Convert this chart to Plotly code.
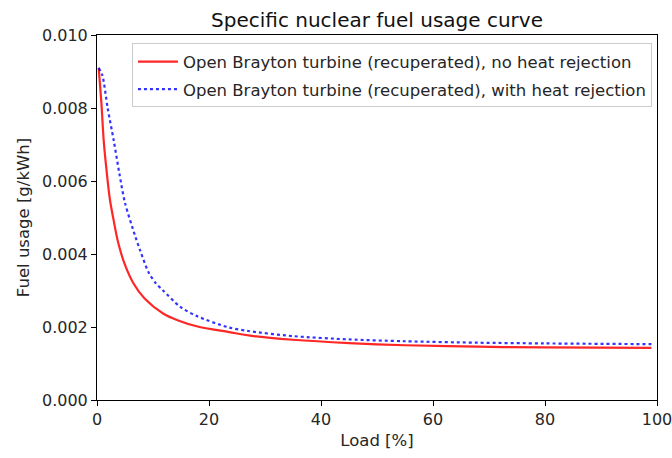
import plotly.graph_objects as go

# Load [%] and fuel usage [g/kWh]
load_no_rej = [0.3, 0.8, 1.2, 1.7, 2.3, 3.0, 3.8, 5.0, 6.5, 8.5, 11.8, 14.5, 17.8, 23.6, 28, 35, 45, 55, 68, 80, 99]
fuel_no_rej = [0.0091, 0.0081, 0.0071, 0.0063, 0.0055, 0.0049, 0.0043, 0.0037, 0.0032, 0.00278, 0.00237,
               0.00218, 0.00202, 0.00186, 0.00175, 0.00165, 0.00156, 0.00150, 0.00146, 0.00144, 0.00143]

load_with_rej = [0.3, 0.95, 1.9, 3.0, 4.0, 5.0, 6.8, 7.7, 9.2, 10.5, 11.8, 14.8, 17.8, 23.5, 27, 35, 45, 55, 68, 80, 99]
fuel_with_rej = [0.0091, 0.0089, 0.0080, 0.0071, 0.0062, 0.0054, 0.0045, 0.0041, 0.0035, 0.0032, 0.0030,
                 0.00256, 0.00230, 0.00199, 0.00189, 0.00175, 0.00166, 0.00161, 0.00157, 0.00155, 0.00153]

x_ticks = [0, 20, 40, 60, 80, 100]
y_ticks = [0.0, 0.002, 0.004, 0.006, 0.008, 0.010]

FONT = "DejaVu Sans"
FS = 16.5
TICK_FS = 16

fig = go.Figure()
fig.add_trace(go.Scatter(
    x=load_no_rej, y=fuel_no_rej, mode="lines", legendgroup="a",
    line=dict(color="rgba(255,0,0,0.85)", width=2.2, shape="spline", smoothing=1.0),
    name="Open Brayton turbine (recuperated), no heat rejection"))
fig.add_trace(go.Scatter(
    x=load_with_rej, y=fuel_with_rej, mode="lines", legendgroup="b",
    line=dict(color="rgba(0,0,255,0.8)", width=2.2, dash="dot", shape="spline", smoothing=0.8),
    name="Open Brayton turbine (recuperated), with heat rejection"))

axis_common = dict(showline=True, linecolor="black", linewidth=1, mirror=True,
                   ticks="outside", ticklen=5, tickcolor="black", showgrid=False,
                   zeroline=False, ticklabeloverflow="allow", automargin=False,
                   tickfont=dict(family=FONT, size=TICK_FS, color="#262626"))

fig.update_layout(
    width=672, height=458,
    margin=dict(l=97, r=15, t=35, b=58),
    paper_bgcolor="white", plot_bgcolor="white",
    font=dict(family=FONT, size=FS, color="#262626"),
    title=dict(text="Specific nuclear fuel usage curve", x=0.5, xref="paper",
               y=0.956, yanchor="middle", font=dict(family=FONT, size=20, color="#111")),
    xaxis=dict(range=[0, 100], tickvals=x_ticks, title=dict(text="Load [%]", standoff=6,
               font=dict(family=FONT, size=FS)), **axis_common),
    yaxis=dict(range=[0, 0.010], tickvals=y_ticks, tickformat=".3f",
               title=dict(text="Fuel usage [g/kWh]", standoff=8, font=dict(family=FONT, size=FS)),
               **axis_common),
    legend=dict(x=0.991, y=0.977, xanchor="right", yanchor="top",
                bgcolor="rgba(255,255,255,0.8)", bordercolor="#cccccc", borderwidth=1,
                font=dict(family=FONT, size=FS, color="#262626"), tracegroupgap=3,
                itemwidth=40),
    showlegend=True,
)

fig.write_html("out.html", config={"displayModeBar": False},
               post_script="document.body.style.margin='0';document.body.style.overflow='hidden';")
